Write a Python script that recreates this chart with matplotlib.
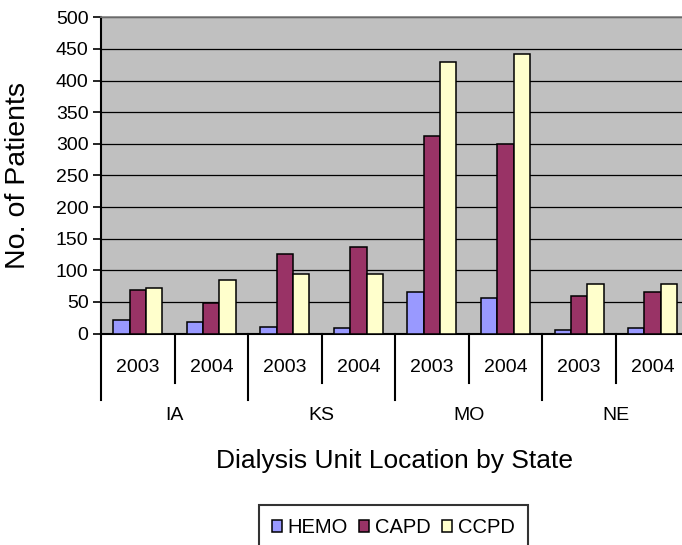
import matplotlib
matplotlib.use("Agg")
import matplotlib.pyplot as plt
import matplotlib.transforms as mtransforms
import numpy as np

plt.rcParams['font.family'] = ['Liberation Sans', 'DejaVu Sans']

states = ["IA", "KS", "MO", "NE"]
years = ["2003", "2004"]
series_names = ["HEMO", "CAPD", "CCPD"]
hemo = [21, 18, 11, 8, 65, 56, 5, 8]
capd = [69, 49, 126, 136, 312, 299, 59, 65]
ccpd = [72, 85, 94, 94, 429, 442, 78, 78]
colors = ["#9999FF", "#993366", "#FFFFCC"]
y_ticks = [0, 50, 100, 150, 200, 250, 300, 350, 400, 450, 500]

W, H = 682, 545
fig = plt.figure(figsize=(W / 100, H / 100), dpi=100)
fig.patch.set_facecolor("white")

left_px, right_px, top_px, bottom_px = 101, 689.4, 17.3, 333.5
ax = fig.add_axes([left_px / W, 1 - bottom_px / H,
                   (right_px - left_px) / W, (bottom_px - top_px) / H])
ax.set_facecolor("#C0C0C0")

n_cat = len(hemo)
x = np.arange(n_cat)
bw = 1 / 4.5
for i, (vals, col, name) in enumerate(zip([hemo, capd, ccpd], colors, series_names)):
    ax.bar(x + (i - 1) * bw, vals, width=bw, color=col, edgecolor="black",
           linewidth=1.1, label=name, zorder=3)

ax.set_xlim(-0.5, n_cat - 0.5)
ax.set_ylim(0, 500)
ax.set_yticks(y_ticks)
ax.set_yticklabels([str(v) for v in y_ticks], fontsize=14)
ax.yaxis.grid(True, color="black", linewidth=0.9, zorder=1)
ax.set_axisbelow(True)
ax.tick_params(axis="y", direction="out", length=6, width=1.2, pad=3)
ax.set_xticks([])

ax.spines["right"].set_visible(False)
ax.spines["top"].set_color("#808080")
ax.spines["top"].set_linewidth(1.2)
ax.spines["left"].set_linewidth(1.5)
ax.spines["bottom"].set_linewidth(1.5)

# Two-level category axis drawn beneath the plot area
ah = bottom_px - top_px
def fy(py):
    return (bottom_px - py) / ah

trans = mtransforms.blended_transform_factory(ax.transData, ax.transAxes)
for k in range(n_cat + 1):
    xs = k - 0.5
    long_line = (k % 2 == 0)
    y_end = fy(400) if long_line else fy(382.5)
    ax.plot([xs, xs], [0, y_end], color="black", linewidth=1.5,
            transform=trans, clip_on=False)

for k in range(n_cat):
    ax.text(k, fy(367), years[k % 2], transform=trans, ha="center",
            va="center", fontsize=14)
for s, st in enumerate(states):
    ax.text(2 * s + 0.5, fy(415), st, transform=trans, ha="center",
            va="center", fontsize=14)

fig.text(18 / W, 1 - 175 / H, "No. of Patients", rotation=90,
         ha="center", va="center", fontsize=20.5)
fig.text(395 / W, 1 - 461 / H, "Dialysis Unit Location by State",
         ha="center", va="center", fontsize=19)

leg = fig.legend(loc="upper center", bbox_to_anchor=(393.5 / W, 1 - 505 / H),
                 ncol=3, fontsize=14.5, frameon=True, fancybox=False,
                 handlelength=0.5, handleheight=0.5, handletextpad=0.3,
                 columnspacing=0.55, borderpad=0.65, borderaxespad=0)
leg.get_frame().set_edgecolor("black")
leg.get_frame().set_linewidth(1.5)

fig.savefig("out.png", dpi=100)
